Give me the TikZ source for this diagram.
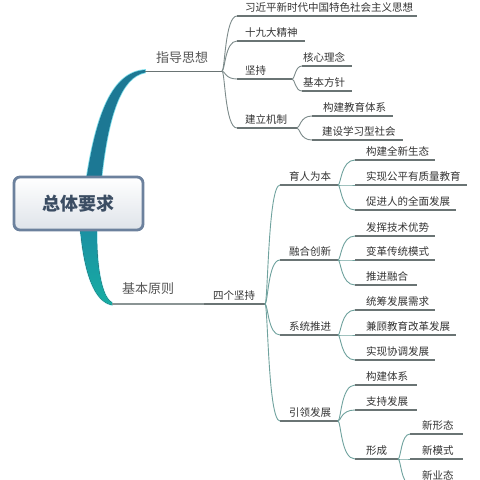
\documentclass[tikz,border=0pt]{standalone}
\usepackage{fontspec}
\setmainfont{Noto Sans CJK SC}
\usetikzlibrary{calc}
\definecolor{txt}{HTML}{333333}
\definecolor{lbl}{HTML}{555555}
\definecolor{ulc}{HTML}{6A7474}
\definecolor{ulclight}{HTML}{8A9494}
\definecolor{brgray}{HTML}{7D8B8B}
\definecolor{brteal}{HTML}{6FA29E}
\definecolor{topbr}{HTML}{1C7894}
\definecolor{botbrA}{HTML}{1A8FA2}
\definecolor{botbrB}{HTML}{17ADA3}
\definecolor{glow}{HTML}{7FDDEA}
\definecolor{rootbd}{HTML}{6C819D}
\definecolor{roottxt}{HTML}{3B4D63}
\tikzset{
  leaf/.style={anchor=base west, inner sep=0pt, text=txt, font=\fontsize{10.5}{12}\selectfont},
  biglbl/.style={anchor=base west, inner sep=0pt, text=lbl, font=\fontsize{13}{15}\selectfont},
  uline/.style={draw=ulc, line width=1.5pt},
  brtop/.style={draw=brgray, line width=0.9pt},
  brbot/.style={draw=brteal, line width=0.9pt},
  rootbox/.style={rectangle, rounded corners=6pt, draw=rootbd, line width=2.8pt,
    top color=white, bottom color=rootbd!22, minimum width=129pt, minimum height=53pt,
    text=roottxt, font=\fontsize{18}{20}\selectfont\bfseries},
}
\newcommand\mmitem[6]{%
  \coordinate (#1s) at (#2,#4);
  \coordinate (#1e) at (#3,#4);
  \node[leaf] (#1) at (#5,#4-5) {#6};
  \draw[uline] (#1s) -- (#1e);
}
\newcommand\mmlink[3]{\draw[#3] (#1) .. controls ($(#1)+(3,0)$) and ($(#1 |- #2s)+(3,0)$) .. (#2s);}
\begin{document}
\begin{tikzpicture}[x=1pt,y=-1pt]
\useasboundingbox (0,0) rectangle (480,480);
\fill[white] (0,0) rectangle (480,480);

% thick main branches
\fill[topbr, preaction={draw=glow, line width=1.6pt}]
  (86,182) .. controls (96,115) and (112,72) .. (145,70)
  -- (145,72.5) .. controls (121,77) and (108,115) .. (101,182) -- cycle;
\fill[top color=botbrA, bottom color=botbrB, preaction={draw=glow!70, line width=1.4pt}]
  (80,226) .. controls (84,275) and (95,302) .. (112,305)
  -- (112,302.5) .. controls (101,297) and (96,262) .. (97,226) -- cycle;

\node[rootbox] (root) at (78.5,203.5) {总体要求};

% ---------- 指导思想 ----------
\coordinate (zdL) at (145,71);
\coordinate (zd) at (222,71);
\node[biglbl] (zdt) at (156,62) {指导思想};
\draw[draw=ulc, line width=1pt] (zdL) -- (zd);

\mmitem{a1}{237}{417}{16}{245}{习近平新时代中国特色社会主义思想}
\mmitem{a2}{237}{305}{41}{245}{十九大精神}
\mmitem{a3}{237}{292}{79}{245}{坚持}
\mmitem{a4}{237}{297}{128}{245}{建立机制}
\foreach \c in {a1,a2,a3,a4} {\mmlink{zd}{\c}{brtop}}

\mmitem{b1}{302}{352}{66}{303}{核心理念}
\mmitem{b2}{302}{352}{91}{303}{基本方针}
\foreach \c in {b1,b2} {\mmlink{a3e}{\c}{brtop}}

\mmitem{c1}{312}{393}{116}{323}{构建教育体系}
\mmitem{c2}{312}{403}{140}{322}{建设学习型社会}
\foreach \c in {c1,c2} {\mmlink{a4e}{\c}{brtop}}

% ---------- 基本原则 ----------
\coordinate (jbL) at (112,304);
\coordinate (sgS) at (204,304);
\coordinate (sg) at (265,304);
\node[biglbl] (jbt) at (122,293) {基本原则};
\node[leaf] (sgt) at (213,299) {四个坚持};
\draw[draw=ulclight, line width=1.3pt] (jbL) -- (sgS);
\draw[uline] (sgS) -- (sg);

\mmitem{d1}{280}{338}{185}{289}{育人为本}
\mmitem{d2}{280}{338}{260}{289}{融合创新}
\mmitem{d3}{280}{338}{335}{289}{系统推进}
\mmitem{d4}{280}{338}{421}{289}{引领发展}
\foreach \c in {d1,d2,d3,d4} {\mmlink{sg}{\c}{brbot}}

\mmitem{e1}{355}{435}{160}{366}{构建全新生态}
\mmitem{e2}{355}{467}{185}{366}{实现公平有质量教育}
\mmitem{e3}{355}{456}{210}{366}{促进人的全面发展}
\foreach \c in {e1,e2,e3} {\mmlink{d1e}{\c}{brbot}}

\mmitem{f1}{355}{435}{236}{366}{发挥技术优势}
\mmitem{f2}{355}{435}{260}{366}{变革传统模式}
\mmitem{f3}{355}{417}{285}{366}{推进融合}
\foreach \c in {f1,f2,f3} {\mmlink{d2e}{\c}{brbot}}

\mmitem{g1}{355}{435}{310}{366}{统筹发展需求}
\mmitem{g2}{355}{456}{335}{366}{兼顾教育改革发展}
\mmitem{g3}{355}{435}{360}{366}{实现协调发展}
\foreach \c in {g1,g2,g3} {\mmlink{d3e}{\c}{brbot}}

\mmitem{h1}{355}{417}{385}{366}{构建体系}
\mmitem{h2}{355}{417}{410}{366}{支持发展}
\mmitem{h3}{355}{398}{459}{366}{形成}
\foreach \c in {h1,h2,h3} {\mmlink{d4e}{\c}{brbot}}

\mmitem{i1}{410}{463}{434}{422}{新形态}
\mmitem{i2}{410}{463}{459}{422}{新模式}
\mmitem{i3}{410}{463}{484}{422}{新业态}
\foreach \c in {i1,i2,i3} {\mmlink{h3e}{\c}{brbot}}
\end{tikzpicture}
\end{document}
